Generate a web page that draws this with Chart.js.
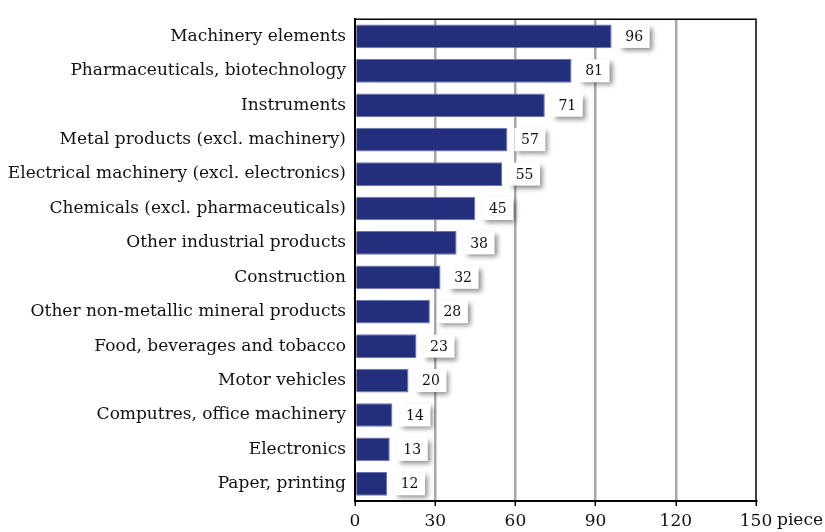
<!DOCTYPE html>
<html>
<head>
<meta charset="utf-8">
<script src="https://cdn.jsdelivr.net/npm/chart.js@4"></script>
<style>
  html, body { margin: 0; padding: 0; background: #fff; }
  #wrap { width: 825px; height: 532px; }
</style>
</head>
<body>
<div id="wrap"><canvas id="chart" width="825" height="532"></canvas></div>
<script>
var categories = [
    "Machinery elements",
    "Pharmaceuticals, biotechnology",
    "Instruments",
    "Metal products (excl. machinery)",
    "Electrical machinery (excl. electronics)",
    "Chemicals (excl. pharmaceuticals)",
    "Other industrial products",
    "Construction",
    "Other non-metallic mineral products",
    "Food, beverages and tobacco",
    "Motor vehicles",
    "Computres, office machinery",
    "Electronics",
    "Paper, printing"
];
var counts = [96, 81, 71, 57, 55, 45, 38, 32, 28, 23, 20, 14, 13, 12];
var xTicks = [0, 30, 60, 90, 120, 150];
var unitLabel = "piece";

var serif = "'DejaVu Serif', 'Liberation Serif', serif";

// white boxes with the value next to each bar
var valueBoxes = {
    id: "valueBoxes",
    afterDatasetsDraw(chart) {
        var ctx = chart.ctx;
        var meta = chart.getDatasetMeta(0);
        ctx.save();
        meta.data.forEach((bar, i) => {
            var w = 31, h = 23;
            var x = bar.x + 7;
            var y = bar.y - h / 2;
            ctx.shadowColor = "rgba(0,0,0,0.45)";
            ctx.shadowBlur = 5;
            ctx.shadowOffsetX = 3;
            ctx.shadowOffsetY = 3;
            ctx.fillStyle = "#fff";
            ctx.fillRect(x, y, w, h);
            ctx.shadowColor = "transparent";
            ctx.fillStyle = "#111";
            ctx.font = "14px " + serif;
            ctx.textAlign = "center";
            ctx.textBaseline = "middle";
            ctx.fillText(counts[i], x + w / 2, bar.y + 1);
        });
        ctx.restore();
    }
};

// top/right frame and the unit after the last tick
var frame = {
    id: "frame",
    afterDraw(chart) {
        var a = chart.chartArea;
        var ctx = chart.ctx;
        ctx.save();
        ctx.strokeStyle = "#000";
        ctx.lineWidth = 1.5;
        ctx.beginPath();
        ctx.moveTo(a.left, a.top);
        ctx.lineTo(a.right, a.top);
        ctx.lineTo(a.right, a.bottom);
        ctx.stroke();
        ctx.fillStyle = "#111";
        ctx.font = "17px " + serif;
        ctx.textAlign = "left";
        ctx.textBaseline = "middle";
        ctx.fillText(unitLabel, a.right + 21, a.bottom + 20);
        ctx.restore();
    }
};

var ctx = document.getElementById("chart").getContext("2d");
new Chart(ctx, {
    type: "bar",
    data: {
        labels: categories,
        datasets: [{
            data: counts,
            backgroundColor: "#232e7d",
            borderColor: "#6f76ad",
            borderWidth: 1,
            barPercentage: 0.8,
            categoryPercentage: 0.86
        }]
    },
    options: {
        indexAxis: "y",
        responsive: false,
        animation: false,
        layout: { padding: { top: 10, right: 69, left: 0, bottom: 0 } },
        plugins: { legend: { display: false }, tooltip: { enabled: false } },
        scales: {
            x: {
                min: 0,
                max: 150,
                afterBuildTicks: (scale) => { scale.ticks = xTicks.map(v => ({ value: v })); },
                afterFit: (scale) => { scale.height = 31; },
                grid: {
                    color: (c) => (c.tick && (c.tick.value === 0 || c.tick.value === 150)) ? "rgba(0,0,0,0)" : "#a8a8a8",
                    lineWidth: 2.5,
                    tickColor: "#000",
                    tickLength: 5,
                    tickWidth: 1.5
                },
                border: { display: true, color: "#000", width: 2 },
                ticks: {
                    color: "#111",
                    padding: 5,
                    maxRotation: 0,
                    font: { family: serif, size: 17 }
                }
            },
            y: {
                afterFit: (scale) => { scale.width = 355; },
                grid: { display: false, drawTicks: false },
                border: { display: true, color: "#000", width: 2 },
                ticks: {
                    color: "#111",
                    padding: 9,
                    autoSkip: false,
                    font: { family: serif, size: 17 }
                }
            }
        }
    },
    plugins: [valueBoxes, frame]
});
</script>
</body>
</html>
